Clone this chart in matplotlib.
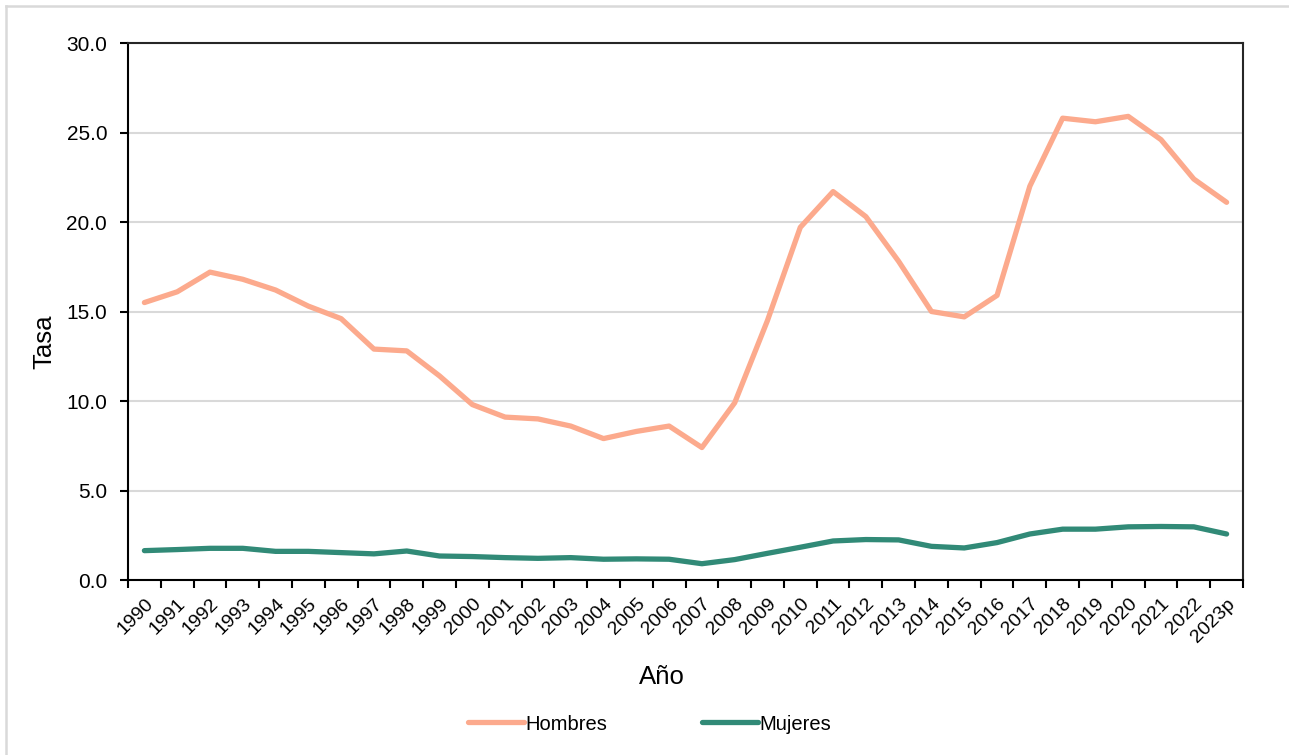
import matplotlib
matplotlib.use("Agg")
import matplotlib.pyplot as plt
from matplotlib.lines import Line2D
import numpy as np

plt.rcParams['font.family'] = ['Liberation Sans', 'DejaVu Sans']

anios = ["1990", "1991", "1992", "1993", "1994", "1995", "1996", "1997", "1998", "1999",
         "2000", "2001", "2002", "2003", "2004", "2005", "2006", "2007", "2008", "2009",
         "2010", "2011", "2012", "2013", "2014", "2015", "2016", "2017", "2018", "2019",
         "2020", "2021", "2022", "2023p"]
hombres = [15.5, 16.1, 17.2, 16.8, 16.2, 15.3, 14.6, 12.9, 12.8, 11.4,
           9.8, 9.1, 9.0, 8.6, 7.9, 8.3, 8.6, 7.4, 9.9, 14.5,
           19.7, 21.7, 20.3, 17.8, 15.0, 14.7, 15.9, 22.0, 25.8, 25.6,
           25.9, 24.6, 22.4, 21.1]
mujeres = [1.64, 1.70, 1.77, 1.77, 1.60, 1.60, 1.53, 1.46, 1.62, 1.34,
           1.31, 1.25, 1.21, 1.25, 1.16, 1.18, 1.16, 0.91, 1.14, 1.49,
           1.83, 2.18, 2.26, 2.24, 1.88, 1.79, 2.09, 2.57, 2.84, 2.84,
           2.97, 2.99, 2.97, 2.57]
y_ticks = [0, 5, 10, 15, 20, 25, 30]

col_h = "#FCAA8D"
col_m = "#318A77"

fig = plt.figure(figsize=(12.89, 7.55), dpi=100)
ax = fig.add_axes([128/1289, 1 - 580/755, (1243-128)/1289, (580-43)/755])

x = np.arange(len(anios))
ax.plot(x, hombres, color=col_h, lw=3.8, label="Hombres", solid_capstyle='round', solid_joinstyle='round')
ax.plot(x, mujeres, color=col_m, lw=3.8, label="Mujeres", solid_capstyle='round', solid_joinstyle='round')

ax.set_xlim(-0.5, len(anios) - 0.5)
ax.set_ylim(0, 30)
ax.set_yticks(y_ticks)
ax.set_yticklabels([f"{v:.1f}" for v in y_ticks], fontsize=15)
ax.yaxis.grid(True, color="#D9D9D9", lw=1.5)
ax.set_axisbelow(True)

ax.set_xticks(x)
ax.set_xticklabels(anios, rotation=45, ha='right', rotation_mode='anchor', fontsize=14)
ax.set_xticks(np.arange(len(anios) + 1) - 0.5, minor=True)
ax.tick_params(axis='x', which='major', length=0, pad=11)
ax.tick_params(axis='x', which='minor', length=6, width=1.5, direction='out')
ax.tick_params(axis='y', length=6, width=1.5, direction='out', pad=9)

for s in ax.spines.values():
    s.set_color("#262626")
    s.set_linewidth(1.5)
ax.spines['left'].set_color("black")
ax.spines['bottom'].set_color("black")

ax.set_ylabel("Tasa", fontsize=18.5, va='center')
ax.yaxis.set_label_coords((44 - 128) / 1115, (580 - 342) / 537)
ax.set_xlabel("Año", fontsize=18.5, va='center')
ax.xaxis.set_label_coords((662 - 128) / 1115, (580 - 677) / 537)

fig.legend(loc='center', bbox_to_anchor=(650/1289, 1 - 724/755), ncol=2, frameon=False,
           fontsize=14.5, handlelength=2.75, handletextpad=0.1, columnspacing=4.7)

# light frame around the chart area
fig.add_artist(Line2D([6/1289, 1.0], [1 - 6/755, 1 - 6/755], color="#D9D9D9", lw=1.8))
fig.add_artist(Line2D([6/1289, 6/1289], [0.0, 1 - 6/755], color="#D9D9D9", lw=1.8))

fig.savefig("out.png", dpi=100)
